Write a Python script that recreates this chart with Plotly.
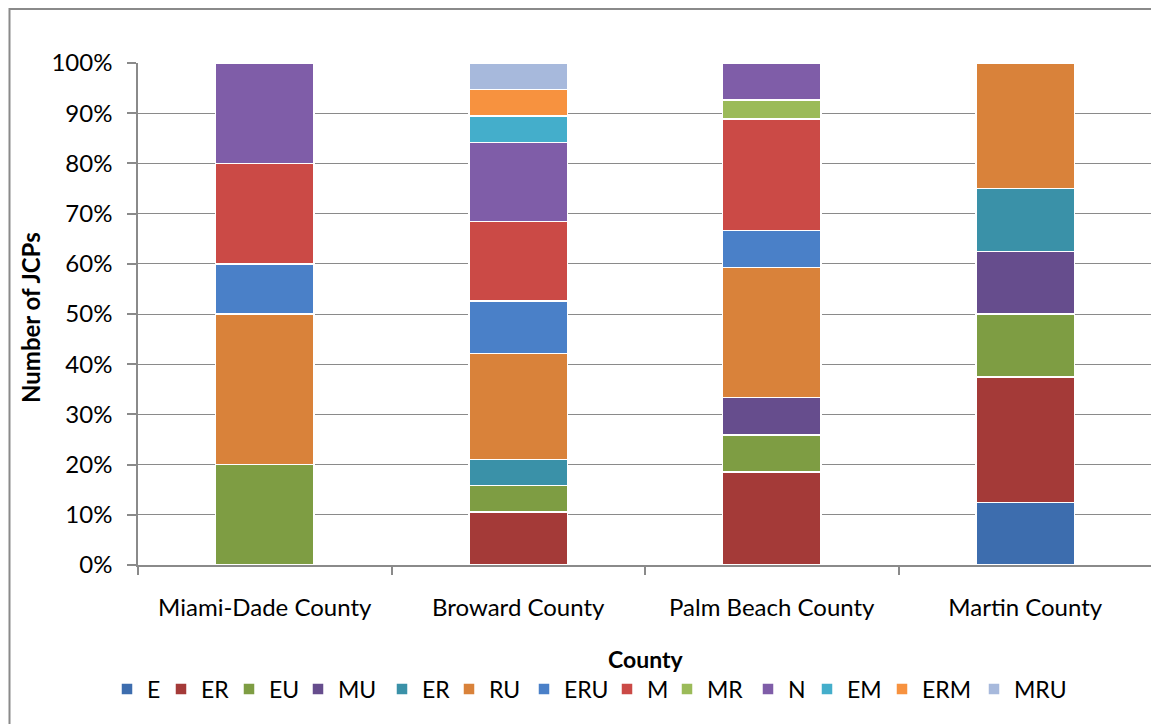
import plotly.graph_objects as go

counties = ["Miami-Dade County", "Broward County", "Palm Beach County", "Martin County"]
series_names = ["E", "ER", "EU", "MU", "ER", "RU", "ERU", "M", "MR", "N", "EM", "ERM", "MRU"]
# JCP counts per county (stacked and normalised to 100%)
E_vals   = [0, 0, 0, 1]
ER_vals  = [0, 2, 5, 2]
EU_vals  = [2, 1, 2, 1]
MU_vals  = [0, 0, 2, 1]
ER2_vals = [0, 1, 0, 1]
RU_vals  = [3, 4, 7, 2]
ERU_vals = [1, 2, 2, 0]
M_vals   = [2, 3, 6, 0]
MR_vals  = [0, 0, 1, 0]
N_vals   = [2, 3, 2, 0]
EM_vals  = [0, 1, 0, 0]
ERM_vals = [0, 1, 0, 0]
MRU_vals = [0, 1, 0, 0]
series_values = [E_vals, ER_vals, EU_vals, MU_vals, ER2_vals, RU_vals, ERU_vals,
                 M_vals, MR_vals, N_vals, EM_vals, ERM_vals, MRU_vals]
colors = ["#3D6DAE", "#A43A38", "#7E9D43", "#664D8D", "#3A91A8", "#D9823A", "#4A80C8",
          "#CB4A46", "#9BBB59", "#7F5DA8", "#44AECB", "#F7923F", "#A7B9DC"]
y_ticks = list(range(0, 101, 10))
y_tick_labels = [f"{v}%" for v in y_ticks]

# layout helpers (reference pixel positions)
PX0, PY0, PW, PH = 138, 565, 1014, 502
legend_px = [121, 175, 243, 312, 396, 463, 538, 621, 681, 762, 821, 896, 988]

def px(x):
    return (x - PX0) / PW

def py(y):
    return (PY0 - y) / PH

FONT = "Lato"
fig = go.Figure()
legends = {}
for i, (name, vals, col) in enumerate(zip(series_names, series_values, colors)):
    key = "legend" if i == 0 else f"legend{i + 1}"
    fig.add_trace(go.Bar(
        x=counties, y=vals, name=name, legend=key,
        marker=dict(color=col, line=dict(color="white", width=1.5)),
        width=0.39,
    ))
    legends[key] = dict(orientation="h", x=px(legend_px[i] - 14), xanchor="left",
                        y=py(689), yanchor="middle", font=dict(size=23),
                        bgcolor="rgba(0,0,0,0)", itemwidth=30)

fig.update_layout(
    barmode="stack", barnorm="percent",
    width=1159, height=724,
    margin=dict(l=130, r=15, t=55, b=167),
    paper_bgcolor="white", plot_bgcolor="white",
    font=dict(family=FONT, size=24, color="black"),
    showlegend=True,
    xaxis=dict(showline=True, linecolor="#8a8a8a", linewidth=1.5,
               ticks="outside", tickson="boundaries", ticklen=8, tickcolor="#8a8a8a",
               tickwidth=1.5, showgrid=False, ticklabelstandoff=20),
    yaxis=dict(range=[0, 100], tickvals=y_ticks, ticktext=y_tick_labels,
               showline=True, linecolor="#8a8a8a", linewidth=1.5,
               ticks="outside", ticklen=9, tickcolor="#8a8a8a", tickwidth=1.5,
               showgrid=True, gridcolor="#8a8a8a", gridwidth=1.2,
               zeroline=False, ticklabelstandoff=10),
    annotations=[
        dict(text="<b>Number of JCPs</b>", xref="paper", yref="paper",
             x=px(30), y=py(318), textangle=-90,
             showarrow=False, font=dict(size=24), xanchor="center", yanchor="middle"),
        dict(text="<b>County</b>", xref="paper", yref="paper",
             x=px(646), y=py(659),
             showarrow=False, font=dict(size=23), xanchor="center", yanchor="middle"),
    ],
    shapes=[dict(type="rect", xref="paper", yref="paper",
                 x0=px(9.5), x1=1.03, y0=-0.45, y1=py(9),
                 line=dict(color="#8a8a8a", width=2), fillcolor="rgba(0,0,0,0)", layer="below")],
    **legends,
)

fig.write_html("out.html")
